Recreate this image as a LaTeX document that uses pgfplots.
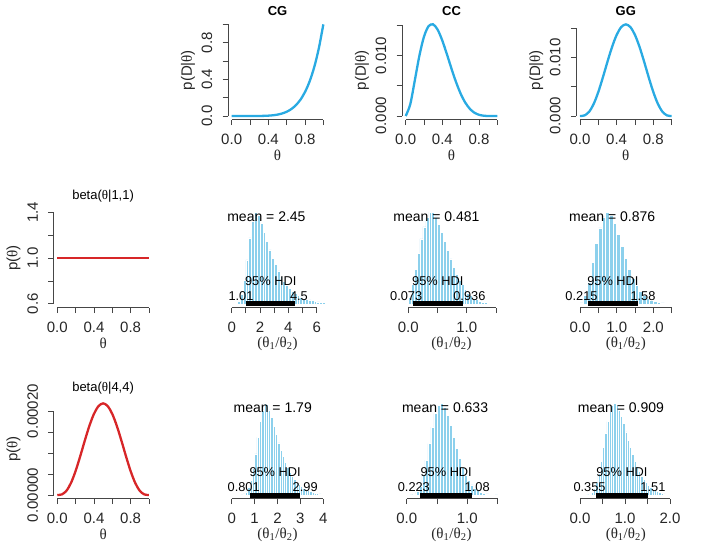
\documentclass[border=0pt]{standalone}
\usepackage{pgfplots}
\pgfplotsset{compat=1.18}
\usepackage{fontspec}
\setmainfont{Liberation Sans}
\newfontfamily\serif{Liberation Serif}
\definecolor{lblue}{RGB}{41,170,226}
\definecolor{lred}{RGB}{215,38,40}
\definecolor{sky}{RGB}{140,208,236}
\definecolor{axc}{RGB}{70,70,70}
\newcommand{\tf}{\fontsize{15}{18}\selectfont}
\newcommand{\ttl}{\fontsize{13}{15}\selectfont}
\newcommand{\mf}{\fontsize{14}{16}\selectfont}
\newcommand{\hf}{\fontsize{12.8}{15}\selectfont}
\newcommand{\thet}{{\serif θ}}
\pgfplotsset{
  rstyle/.style={
    scale only axis, width=99pt, height=99pt, clip=false,
    axis line style={draw=none},
    tick align=outside, xtick pos=bottom, ytick pos=left,
    major tick length=5.5pt,
    every tick/.style={axc, line width=0.8pt},
    tick label style={font=\tf, text=black!85, inner sep=0pt},
    xticklabel style={anchor=north, yshift=-8.5pt},
    yticklabel style={rotate=90, anchor=south, yshift=10pt},
    every axis x label/.style={at={(axis description cs:0.5,-0.364)}, anchor=center, font=\tf, text=black!85},
    every axis y label/.style={at={(axis description cs:-0.404,0.5)}, anchor=center, rotate=90, font=\tf, text=black!85},
    every axis title/.style={at={(axis description cs:0.5,1.101)}, anchor=center, font=\ttl},
    /pgf/number format/assume math mode=true,
    scaled ticks=false,
  },
  curve/.style={rstyle, xmin=-0.04, xmax=1.04, xtick={0,0.2,0.4,0.6,0.8,1.0},
    xticklabels={0.0,,0.4,,0.8,}, xlabel={\thet}},
  hist/.style={rstyle, ymin=-0.04, ymax=1.04, ytick=\empty, xlabel={\serif(θ\textsubscript{1}/θ\textsubscript{2})}},
  bars/.style={ybar, bar shift=0pt, fill=sky, draw=white, line width=0.5pt},
  hdi/.style={black, line width=5pt},
}
\newcommand{\axx}[3]{\draw[axc, line width=0.8pt] (axis cs:#1,#3) -- (axis cs:#2,#3);}
\newcommand{\axy}[3]{\draw[axc, line width=0.8pt] (axis cs:#3,#1) -- (axis cs:#3,#2);}
\begin{document}
\begin{tikzpicture}
\useasboundingbox (0,0) rectangle (704pt,-546pt);

% ---------- Row 1: likelihoods ----------
\begin{axis}[curve, at={(228pt,-119.7pt)}, anchor=south west,
  ymin=-0.04, ymax=1.04, ytick={0,0.2,0.4,0.6,0.8,1.0}, yticklabels={0.0,,0.4,,0.8,},
  ylabel={p(D|\thet)}, title={\bfseries CG}]
\addplot[lblue, line width=2.3pt, smooth, tension=0.5] coordinates {
(0,0) (0.05,0) (0.1,0.000001) (0.15,0.0000114) (0.2,0.000064) (0.25,0.000244) (0.3,0.000729)
(0.35,0.001838) (0.4,0.004096) (0.45,0.008304) (0.5,0.015625) (0.55,0.027681) (0.6,0.046656)
(0.65,0.075419) (0.7,0.117649) (0.75,0.177979) (0.8,0.262144) (0.85,0.377150) (0.9,0.531441)
(0.95,0.735092) (1,1)};
\axx{0}{1}{-0.04}\axy{0}{1}{-0.04}
\end{axis}

\begin{axis}[curve, at={(402pt,-119.7pt)}, anchor=south west,
  ymin=-0.000605, ymax=0.015731, ytick={0,0.005,0.01,0.015}, yticklabels={0.000,,0.010,},
  ylabel={p(D|\thet)}, title={\bfseries CC}]
\addplot[lblue, line width=2.3pt, smooth, tension=0.5] coordinates {
(0,0) (0.05,0.0019345) (0.1,0.0059049) (0.15,0.0099834) (0.2,0.0131072) (0.25,0.0148315)
(0.3,0.0151263) (0.35,0.0142136) (0.4,0.0124416) (0.45,0.0101915) (0.5,0.0078125)
(0.55,0.0055820) (0.6,0.0036864) (0.65,0.0022190) (0.7,0.0011907) (0.75,0.00054932)
(0.8,0.0002048) (0.85,0.0000549) (0.9,0.0000081) (0.95,0.0000003) (1,0)};
\axx{0}{1}{-0.000605}\axy{0}{0.015}{-0.04}
\end{axis}

\begin{axis}[curve, at={(576.3pt,-119.7pt)}, anchor=south west,
  ymin=-0.000625, ymax=0.01625, ytick={0,0.005,0.01,0.015}, yticklabels={0.000,,0.010,},
  ylabel={p(D|\thet)}, title={\bfseries GG}]
\addplot[lblue, line width=2.3pt, smooth, tension=0.5] coordinates {
(0,0) (0.05,0.00010717) (0.1,0.000729) (0.15,0.0020727) (0.2,0.004096) (0.25,0.0065918)
(0.3,0.009261) (0.35,0.0117746) (0.4,0.013824) (0.45,0.0151610) (0.5,0.015625)
(0.55,0.0151610) (0.6,0.013824) (0.65,0.0117746) (0.7,0.009261) (0.75,0.0065918)
(0.8,0.004096) (0.85,0.0020727) (0.9,0.000729) (0.95,0.00010717) (1,0)};
\axx{0}{1}{-0.000625}\axy{0}{0.015}{-0.04}
\end{axis}

% ---------- Row 2 ----------
\begin{axis}[curve, at={(53.6pt,-307.5pt)}, anchor=south west,
  ymin=0.568, ymax=1.432, ytick={0.6,0.8,1.0,1.2,1.4}, yticklabels={0.6,,1.0,,1.4},
  ylabel={p(\thet)}, title={beta(\thet|1,1)},
  every axis title/.style={at={(axis description cs:0.5,1.121)}, anchor=center, font=\ttl}]
\addplot[lred, line width=2.3pt] coordinates {(0,1) (1,1)};
\axx{0}{1}{0.568}\axy{0.6}{1.4}{-0.04}
\end{axis}

\begin{axis}[hist, at={(228pt,-307.5pt)}, anchor=south west,
  xmin=-0.261, xmax=6.726, xtick={0,1,2,3,4,5,6}, xticklabels={0,,2,,4,,6}]
\addplot[bars, bar width=0.2] coordinates {
(0.3,0.005) (0.5,0.03) (0.7,0.10) (0.9,0.26) (1.1,0.48) (1.3,0.72) (1.5,0.90) (1.7,1.00)
(1.9,0.97) (2.1,0.88) (2.3,0.78) (2.5,0.68) (2.7,0.59) (2.9,0.50) (3.1,0.43) (3.3,0.36)
(3.5,0.30) (3.7,0.25) (3.9,0.205) (4.1,0.17) (4.3,0.14) (4.5,0.115) (4.7,0.094) (4.9,0.077)
(5.1,0.063) (5.3,0.051) (5.5,0.042) (5.7,0.034) (5.9,0.028) (6.1,0.022) (6.3,0.018) (6.5,0.014)};
\addplot[hdi] coordinates {(1.01,0) (4.5,0)};
\axx{0}{6}{-0.04}
\node[font=\mf, anchor=base, inner sep=0pt] at (axis cs:2.45,0.9) {mean = 2.45};
\node[font=\hf, anchor=base, inner sep=0pt, yshift=18.2pt] at (axis cs:2.755,0) {95\% HDI};
\node[font=\hf, anchor=base, inner sep=0pt, yshift=3.2pt, xshift=-5pt] at (axis cs:1.01,0) {1.01};
\node[font=\hf, anchor=base, inner sep=0pt, yshift=3.2pt, xshift=3.5pt] at (axis cs:4.5,0) {4.5};
\end{axis}

\begin{axis}[hist, at={(402pt,-307.5pt)}, anchor=south west,
  xmin=-0.108, xmax=1.587, xtick={0,0.5,1,1.5}, xticklabels={0.0,,1.0,}]
\addplot[bars, bar width=0.05] coordinates {
(0.025,0.07) (0.075,0.21) (0.125,0.38) (0.175,0.55) (0.225,0.71) (0.275,0.84) (0.325,0.94)
(0.375,1.00) (0.425,1.00) (0.475,0.95) (0.525,0.87) (0.575,0.78) (0.625,0.68) (0.675,0.58)
(0.725,0.49) (0.775,0.40) (0.825,0.32) (0.875,0.26) (0.925,0.21) (0.975,0.16) (1.025,0.12)
(1.075,0.09) (1.125,0.065) (1.175,0.045) (1.225,0.03) (1.275,0.02) (1.325,0.013) (1.375,0.008)
(1.425,0.005) (1.475,0.003)};
\addplot[hdi] coordinates {(0.073,0) (0.936,0)};
\axx{0}{1.5}{-0.04}
\node[font=\mf, anchor=base, inner sep=0pt] at (axis cs:0.481,0.9) {mean = 0.481};
\node[font=\hf, anchor=base, inner sep=0pt, yshift=18.2pt] at (axis cs:0.5045,0) {95\% HDI};
\node[font=\hf, anchor=base, inner sep=0pt, yshift=3.2pt, xshift=-6.4pt] at (axis cs:0.073,0) {0.073};
\node[font=\hf, anchor=base, inner sep=0pt, yshift=3.2pt, xshift=6.4pt] at (axis cs:0.936,0) {0.936};
\end{axis}

\begin{axis}[hist, at={(576.3pt,-307.5pt)}, anchor=south west,
  xmin=-0.101, xmax=2.597, xtick={0,0.5,1,1.5,2,2.5}, xticklabels={0.0,,1.0,,2.0,}]
\addplot[bars, bar width=0.1] coordinates {
(0.05,0.01) (0.15,0.09) (0.25,0.24) (0.35,0.45) (0.45,0.66) (0.55,0.83) (0.65,0.95) (0.75,1.00)
(0.85,0.97) (0.95,0.88) (1.05,0.76) (1.15,0.63) (1.25,0.50) (1.35,0.38) (1.45,0.28) (1.55,0.20)
(1.65,0.14) (1.75,0.095) (1.85,0.063) (1.95,0.041) (2.05,0.026) (2.15,0.016) (2.25,0.01) (2.35,0.006)};
\addplot[hdi] coordinates {(0.215,0) (1.58,0)};
\axx{0}{2.5}{-0.04}
\node[font=\mf, anchor=base, inner sep=0pt] at (axis cs:0.876,0.9) {mean = 0.876};
\node[font=\hf, anchor=base, inner sep=0pt, yshift=18.2pt] at (axis cs:0.8975,0) {95\% HDI};
\node[font=\hf, anchor=base, inner sep=0pt, yshift=3.2pt, xshift=-6.4pt] at (axis cs:0.215,0) {0.215};
\node[font=\hf, anchor=base, inner sep=0pt, yshift=3.2pt, xshift=5pt] at (axis cs:1.58,0) {1.58};
\end{axis}

% ---------- Row 3 ----------
\begin{axis}[curve, at={(53.6pt,-498.7pt)}, anchor=south west,
  ymin=-0.00000875, ymax=0.0002275, ytick={0,0.00005,0.0001,0.00015,0.0002},
  yticklabels={0.00000,,,,0.00020},
  ylabel={p(\thet)}, title={beta(\thet|4,4)},
  every axis title/.style={at={(axis description cs:0.5,1.121)}, anchor=center, font=\ttl}]
\addplot[lred, line width=2.3pt, smooth, tension=0.5] coordinates {
(0,0) (0.05,0.0000015) (0.1,0.000010206) (0.15,0.000029018) (0.2,0.000057344) (0.25,0.000092285)
(0.3,0.000129654) (0.35,0.000164844) (0.4,0.000193536) (0.45,0.000212254) (0.5,0.00021875)
(0.55,0.000212254) (0.6,0.000193536) (0.65,0.000164844) (0.7,0.000129654) (0.75,0.000092285)
(0.8,0.000057344) (0.85,0.000029018) (0.9,0.000010206) (0.95,0.0000015) (1,0)};
\axx{0}{1}{-0.00000875}\axy{0}{0.0002}{-0.04}
\end{axis}

\begin{axis}[hist, at={(228pt,-498.7pt)}, anchor=south west,
  xmin=-0.162, xmax=4.161, xtick={0,1,2,3,4}, xticklabels={0,1,2,3,4}]
\addplot[bars, bar width=0.1] coordinates {
(0.45,0.003) (0.55,0.012) (0.65,0.035) (0.75,0.08) (0.85,0.16) (0.95,0.29) (1.05,0.45) (1.15,0.63)
(1.25,0.80) (1.35,0.93) (1.45,1.00) (1.55,0.99) (1.65,0.93) (1.75,0.85) (1.85,0.75) (1.95,0.66)
(2.05,0.57) (2.15,0.49) (2.25,0.42) (2.35,0.355) (2.45,0.30) (2.55,0.25) (2.65,0.21) (2.75,0.17)
(2.85,0.14) (2.95,0.115) (3.05,0.093) (3.15,0.075) (3.25,0.06) (3.35,0.047) (3.45,0.037)
(3.55,0.029) (3.65,0.022) (3.75,0.017) (3.85,0.013) (3.95,0.01) (4.05,0.007)};
\addplot[hdi] coordinates {(0.801,0) (2.99,0)};
\axx{0}{4}{-0.04}
\node[font=\mf, anchor=base, inner sep=0pt] at (axis cs:1.79,0.9) {mean = 1.79};
\node[font=\hf, anchor=base, inner sep=0pt, yshift=18.2pt] at (axis cs:1.8955,0) {95\% HDI};
\node[font=\hf, anchor=base, inner sep=0pt, yshift=3.2pt, xshift=-6.4pt] at (axis cs:0.801,0) {0.801};
\node[font=\hf, anchor=base, inner sep=0pt, yshift=3.2pt, xshift=5pt] at (axis cs:2.99,0) {2.99};
\end{axis}

\begin{axis}[hist, at={(402pt,-498.7pt)}, anchor=south west,
  xmin=-0.078, xmax=1.556, xtick={0,0.5,1,1.5}, xticklabels={0.0,,1.0,}]
\addplot[bars, bar width=0.05] coordinates {
(0.075,0.002) (0.125,0.01) (0.175,0.04) (0.225,0.10) (0.275,0.22) (0.325,0.38) (0.375,0.56)
(0.425,0.74) (0.475,0.89) (0.525,0.98) (0.575,1.00) (0.625,0.96) (0.675,0.87) (0.725,0.76)
(0.775,0.63) (0.825,0.51) (0.875,0.40) (0.925,0.30) (0.975,0.22) (1.025,0.16) (1.075,0.11)
(1.125,0.075) (1.175,0.05) (1.225,0.033) (1.275,0.021) (1.325,0.013) (1.375,0.008)
(1.425,0.005) (1.475,0.003)};
\addplot[hdi] coordinates {(0.223,0) (1.08,0)};
\axx{0}{1.5}{-0.04}
\node[font=\mf, anchor=base, inner sep=0pt] at (axis cs:0.633,0.9) {mean = 0.633};
\node[font=\hf, anchor=base, inner sep=0pt, yshift=18.2pt] at (axis cs:0.6515,0) {95\% HDI};
\node[font=\hf, anchor=base, inner sep=0pt, yshift=3.2pt, xshift=-6.4pt] at (axis cs:0.223,0) {0.223};
\node[font=\hf, anchor=base, inner sep=0pt, yshift=3.2pt, xshift=5pt] at (axis cs:1.08,0) {1.08};
\end{axis}

\begin{axis}[hist, at={(576.3pt,-498.7pt)}, anchor=south west,
  xmin=-0.082, xmax=2.118, xtick={0,0.5,1,1.5,2}, xticklabels={0.0,,1.0,,2.0}]
\addplot[bars, bar width=0.05] coordinates {
(0.175,0.003) (0.225,0.01) (0.275,0.03) (0.325,0.07) (0.375,0.14) (0.425,0.24) (0.475,0.37)
(0.525,0.52) (0.575,0.67) (0.625,0.80) (0.675,0.91) (0.725,0.98) (0.775,1.00) (0.825,0.98)
(0.875,0.93) (0.925,0.86) (0.975,0.78) (1.025,0.69) (1.075,0.60) (1.125,0.52) (1.175,0.44)
(1.225,0.37) (1.275,0.31) (1.325,0.255) (1.375,0.21) (1.425,0.17) (1.475,0.135) (1.525,0.105)
(1.575,0.082) (1.625,0.063) (1.675,0.048) (1.725,0.036) (1.775,0.027) (1.825,0.02) (1.875,0.014)
(1.925,0.01) (1.975,0.007)};
\addplot[hdi] coordinates {(0.355,0) (1.51,0)};
\axx{0}{2}{-0.04}
\node[font=\mf, anchor=base, inner sep=0pt] at (axis cs:0.909,0.9) {mean = 0.909};
\node[font=\hf, anchor=base, inner sep=0pt, yshift=18.2pt] at (axis cs:0.9325,0) {95\% HDI};
\node[font=\hf, anchor=base, inner sep=0pt, yshift=3.2pt, xshift=-6.4pt] at (axis cs:0.355,0) {0.355};
\node[font=\hf, anchor=base, inner sep=0pt, yshift=3.2pt, xshift=5pt] at (axis cs:1.51,0) {1.51};
\end{axis}
\end{tikzpicture}
\end{document}
